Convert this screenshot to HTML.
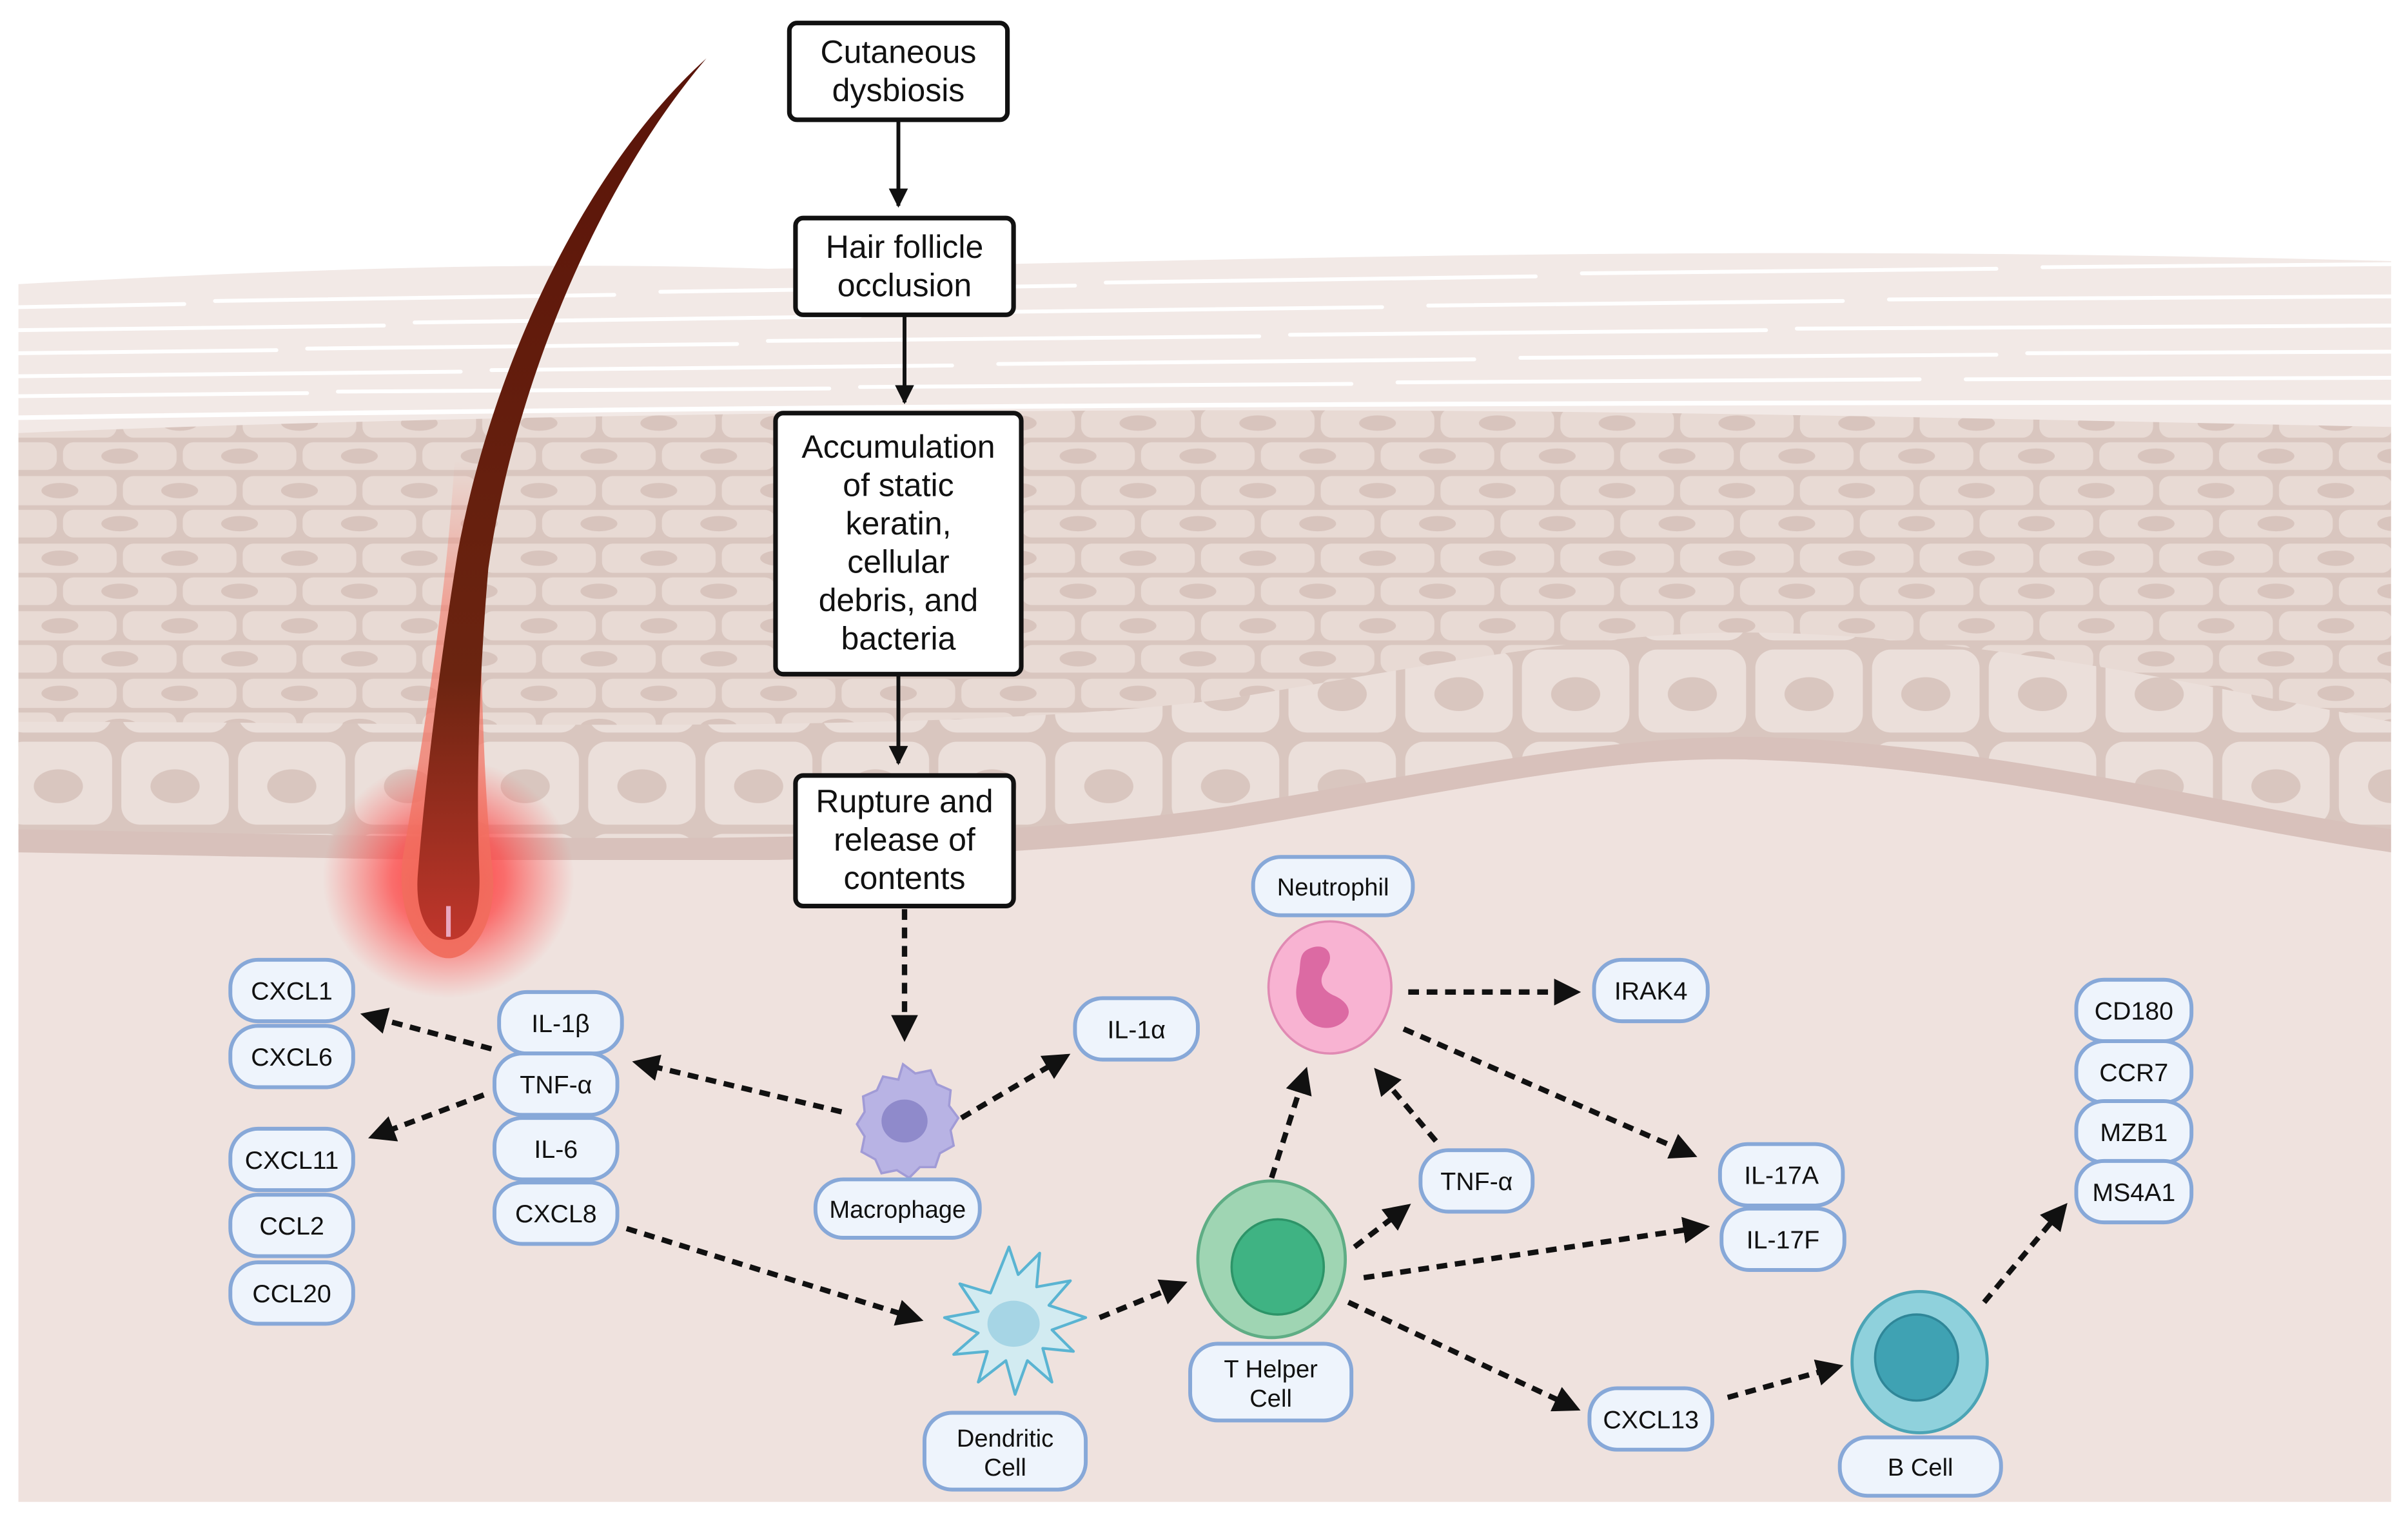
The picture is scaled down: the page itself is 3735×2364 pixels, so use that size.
<!DOCTYPE html>
<html><head><meta charset="utf-8">
<style>html,body{margin:0;padding:0;background:#fff}svg{display:block}</style></head>
<body>
<svg width="3735" height="2364" viewBox="0 0 1568 992.4" preserveAspectRatio="none" xmlns="http://www.w3.org/2000/svg" font-family="Liberation Sans, sans-serif">
<defs>
<pattern id="cells" x="0" y="0" width="78" height="44" patternUnits="userSpaceOnUse">
<rect width="78" height="44" fill="#d9c6bf"/>
<rect x="2" y="2" width="74" height="19" rx="7" fill="#e8dad4"/>
<ellipse cx="39" cy="11.5" rx="12" ry="5" fill="#d8c4bd"/>
<rect x="-37" y="24" width="74" height="18" rx="7" fill="#e8dad4"/>
<rect x="41" y="24" width="74" height="18" rx="7" fill="#e8dad4"/>
<ellipse cx="0" cy="33" rx="12" ry="5" fill="#d8c4bd"/>
<ellipse cx="78" cy="33" rx="12" ry="5" fill="#d8c4bd"/>
</pattern>
<pattern id="basal" x="0" y="0" width="76" height="60" patternUnits="userSpaceOnUse">
<rect width="76" height="60" fill="#d9c6bf"/>
<rect x="3" y="3" width="70" height="54" rx="12" fill="#ebdfda"/>
<ellipse cx="38" cy="32" rx="16" ry="11" fill="#d9c6bf"/>
</pattern>
<radialGradient id="glow" cx="0.5" cy="0.5" r="0.5">
<stop offset="0" stop-color="#ff2a2a" stop-opacity="0.95"/>
<stop offset="0.45" stop-color="#ff3b3b" stop-opacity="0.7"/>
<stop offset="1" stop-color="#ff5050" stop-opacity="0"/>
</radialGradient>
<linearGradient id="hair" x1="0" y1="0" x2="0" y2="1">
<stop offset="0" stop-color="#5a1409"/>
<stop offset="0.7" stop-color="#6b2410"/>
<stop offset="1" stop-color="#c0362c"/>
</linearGradient>
<linearGradient id="sheath" x1="0" y1="0" x2="0" y2="1">
<stop offset="0" stop-color="#f47a6a" stop-opacity="0"/>
<stop offset="0.3" stop-color="#f47a6a" stop-opacity="0.6"/>
<stop offset="1" stop-color="#f06a5a" stop-opacity="0.9"/>
</linearGradient>
<marker id="ah" viewBox="0 0 10 10" refX="8" refY="5" markerWidth="5" markerHeight="5" orient="auto" markerUnits="strokeWidth">
<path d="M0,0 L10,5 L0,10 z" fill="#111"/>
</marker>
<marker id="as" viewBox="0 0 10 10" refX="9" refY="5" markerWidth="5" markerHeight="5" orient="auto" markerUnits="strokeWidth">
<path d="M0,0 L10,5 L0,10 z" fill="#111"/>
</marker>
<clipPath id="epi"><path d="M12,282 C300,270 700,265 1000,268 C1200,270 1400,275 1557,278 L1557,555 C1450,540 1300,500 1150,495 C1050,490 950,515 800,540 C600,570 300,560 12,555 Z"/></clipPath>
</defs>

<rect x="12" y="280" width="1545" height="698" fill="#efe2de"/>
<path d="M12,185 C200,175 350,170 500,175 C800,170 1100,158 1557,170 L1557,282 L12,285 Z" fill="#f2e9e6"/>
<g stroke="#fff" stroke-width="2.5" fill="none" stroke-linecap="round">
<path d="M12,200 L120,198 M140,196 L400,192 M430,190 L700,186 M720,184 L1000,180 M1030,178 L1300,175 M1330,174 L1557,172"/>
<path d="M12,215 L250,212 M270,210 L560,206 M580,204 L900,200 M930,199 L1200,196 M1230,195 L1557,193"/>
<path d="M12,230 L180,228 M200,227 L480,224 M500,222 L820,219 M840,218 L1150,215 M1170,214 L1557,212"/>
<path d="M12,245 L300,242 M320,241 L620,238 M650,237 L960,234 M990,233 L1300,231 M1320,230 L1557,229"/>
<path d="M12,258 L200,256 M220,255 L540,253 M560,252 L880,250 M910,249 L1250,247 M1280,247 L1557,246"/>
<path d="M12,272 C400,266 800,262 1557,262" stroke-width="3"/>
</g>
<g clip-path="url(#epi)">
<rect x="0" y="260" width="1568" height="300" fill="url(#cells)"/>
<path d="M12,470 C300,470 600,480 800,455 C950,430 1050,410 1150,412 C1300,415 1450,450 1557,470 L1557,560 L12,560Z" fill="url(#basal)"/>
<path d="M12,540 C300,545 600,555 800,525 C950,500 1050,478 1150,480 C1300,485 1450,525 1557,540 L1557,560 L12,560Z" fill="#d8c1bb"/>
</g>

<ellipse cx="292" cy="572" rx="82" ry="78" fill="url(#glow)"/>
<path d="M296,300 C290,400 272,500 262,560 C258,600 276,624 292,624 C308,624 326,600 320,560 C314,500 312,400 312,300 Z" fill="url(#sheath)"/>
<path d="M460,38 C380,110 320,240 298,360 C285,440 276,520 272,570 C270,600 282,612 292,612 C304,612 314,600 312,565 C310,510 312,440 318,370 C335,250 390,120 460,38 Z" fill="url(#hair)"/>
<path d="M292,610 L292,590" stroke="#e9a7c0" stroke-width="3"/>

<g stroke="#111" stroke-width="2.5" fill="none">
<line x1="585" y1="78" x2="585" y2="134" marker-end="url(#as)"/>
<line x1="589" y1="205" x2="589" y2="262" marker-end="url(#as)"/>
<line x1="585" y1="439" x2="585" y2="497" marker-end="url(#as)"/>
</g>

<g stroke="#111" stroke-width="3" fill="#fff">
<rect x="514" y="15" width="142" height="63" rx="5"/>
<rect x="518" y="142" width="142" height="63" rx="5"/>
<rect x="505" y="269" width="160" height="170" rx="5"/>
<rect x="518" y="505" width="142" height="85" rx="5"/>
</g>
<g font-size="21" fill="#111" text-anchor="middle">
<text x="585" y="41">Cutaneous</text><text x="585" y="66">dysbiosis</text>
<text x="589" y="168">Hair follicle</text><text x="589" y="193">occlusion</text>
<text x="585" y="298">Accumulation</text><text x="585" y="323">of static</text><text x="585" y="348">keratin,</text><text x="585" y="373">cellular</text><text x="585" y="398">debris, and</text><text x="585" y="423">bacteria</text>
<text x="589" y="529">Rupture and</text><text x="589" y="554">release of</text><text x="589" y="579">contents</text>
</g>

<g stroke="#111" stroke-width="3.5" stroke-dasharray="7,5" fill="none" marker-end="url(#ah)">
<line x1="589" y1="592" x2="589" y2="675"/>
<line x1="548" y1="724" x2="415" y2="692"/>
<line x1="320" y1="683" x2="238" y2="661"/>
<line x1="315" y1="713" x2="243" y2="740"/>
<line x1="626" y1="728" x2="694" y2="688"/>
<line x1="408" y1="800" x2="598" y2="859"/>
<line x1="716" y1="858" x2="770" y2="836"/>
<line x1="828" y1="767" x2="850" y2="698"/>
<line x1="882" y1="812" x2="916" y2="786"/>
<line x1="935" y1="743" x2="897" y2="698"/>
<line x1="917" y1="646" x2="1026" y2="646"/>
<line x1="914" y1="670" x2="1102" y2="752"/>
<line x1="888" y1="832" x2="1110" y2="799"/>
<line x1="878" y1="848" x2="1026" y2="917"/>
<line x1="1125" y1="910" x2="1197" y2="890"/>
<line x1="1292" y1="848" x2="1344" y2="786"/>
</g>

<g>
<path d="M588,693 l8,6 10,-2 4,9 9,4 -1,10 6,8 -5,8 2,10 -9,5 -3,9 -10,0 -7,7 -8,-5 -10,2 -4,-9 -9,-5 2,-10 -5,-8 5,-8 -1,-10 9,-4 4,-9 10,2 z" fill="#b8b3e4" stroke="#a19bd6" stroke-width="1.5"/>
<ellipse cx="589" cy="730" rx="15" ry="14" fill="#8f8acb"/>
<ellipse cx="866" cy="643" rx="40" ry="43" fill="#f8b3d2" stroke="#e08ab3" stroke-width="1.5"/>
<path d="M852,618 c10,-5 18,2 12,12 c-6,8 -4,14 4,18 c10,4 14,12 6,18 c-8,6 -20,4 -26,-6 c-6,-10 -4,-18 -2,-26 c1,-8 0,-13 6,-16z" fill="#dc6aa3"/>
<ellipse cx="828" cy="820" rx="48" ry="51" fill="#9fd5b3" stroke="#5fad85" stroke-width="2"/>
<ellipse cx="832" cy="825" rx="30" ry="31" fill="#3fb383" stroke="#2d9468" stroke-width="1.5"/>
<path d="M657,812 l6,18 14,-14 -2,22 22,-4 -14,16 24,8 -22,8 14,14 -20,-2 6,22 -16,-14 -8,22 -6,-22 -18,14 6,-20 -22,2 16,-14 -22,-10 22,-4 -12,-18 20,6 z" fill="#d2ebf1" stroke="#5ab4d2" stroke-width="1.8" stroke-linejoin="round"/>
<ellipse cx="660" cy="862" rx="17" ry="15" fill="#a6d5e5"/>
<ellipse cx="1250" cy="887" rx="44" ry="46" fill="#8fd1dc" stroke="#4ba4b5" stroke-width="2"/>
<ellipse cx="1248" cy="884" rx="27" ry="28" fill="#3fa2b3" stroke="#2f8698" stroke-width="1.5"/>
</g>

<g fill="#eef4fc" stroke="#87a8d8" stroke-width="2.5">
<rect x="150" y="625" width="80" height="40" rx="18"/>
<rect x="150" y="668" width="80" height="40" rx="18"/>
<rect x="150" y="735" width="80" height="40" rx="18"/>
<rect x="150" y="778" width="80" height="40" rx="18"/>
<rect x="150" y="822" width="80" height="40" rx="18"/>
<rect x="325" y="646" width="80" height="40" rx="18"/>
<rect x="322" y="686" width="80" height="40" rx="18"/>
<rect x="322" y="728" width="80" height="40" rx="18"/>
<rect x="322" y="770" width="80" height="40" rx="18"/>
<rect x="531" y="768" width="107" height="38" rx="18"/>
<rect x="700" y="650" width="80" height="40" rx="18"/>
<rect x="816" y="558" width="104" height="38" rx="18"/>
<rect x="1038" y="625" width="74" height="40" rx="18"/>
<rect x="925" y="749" width="73" height="40" rx="18"/>
<rect x="1120" y="745" width="80" height="40" rx="18"/>
<rect x="1121" y="787" width="80" height="40" rx="18"/>
<rect x="1352" y="638" width="75" height="40" rx="18"/>
<rect x="1352" y="678" width="75" height="40" rx="18"/>
<rect x="1352" y="717" width="75" height="40" rx="18"/>
<rect x="1352" y="756" width="75" height="40" rx="18"/>
<rect x="775" y="875" width="105" height="50" rx="18"/>
<rect x="602" y="920" width="105" height="50" rx="18"/>
<rect x="1035" y="904" width="80" height="40" rx="18"/>
<rect x="1198" y="936" width="105" height="38" rx="18"/>
</g>
<g font-size="16.5" fill="#111" text-anchor="middle">
<text x="190" y="651">CXCL1</text>
<text x="190" y="694">CXCL6</text>
<text x="190" y="761">CXCL11</text>
<text x="190" y="804">CCL2</text>
<text x="190" y="848">CCL20</text>
<text x="365" y="672">IL-1β</text>
<text x="362" y="712">TNF-α</text>
<text x="362" y="754">IL-6</text>
<text x="362" y="796">CXCL8</text>
<text x="584.5" y="793" font-size="16">Macrophage</text>
<text x="740" y="676">IL-1α</text>
<text x="868" y="583" font-size="16">Neutrophil</text>
<text x="1075" y="651">IRAK4</text>
<text x="961.5" y="775">TNF-α</text>
<text x="1160" y="771">IL-17A</text>
<text x="1161" y="813">IL-17F</text>
<text x="1389.5" y="664">CD180</text>
<text x="1389.5" y="704">CCR7</text>
<text x="1389.5" y="743">MZB1</text>
<text x="1389.5" y="782">MS4A1</text>
<text x="827.5" y="897" font-size="16">T Helper</text>
<text x="827.5" y="916" font-size="16">Cell</text>
<text x="654.5" y="942" font-size="16">Dendritic</text>
<text x="654.5" y="961" font-size="16">Cell</text>
<text x="1075" y="930">CXCL13</text>
<text x="1250.5" y="961" font-size="16">B Cell</text>
</g>
</svg>
</body></html>
